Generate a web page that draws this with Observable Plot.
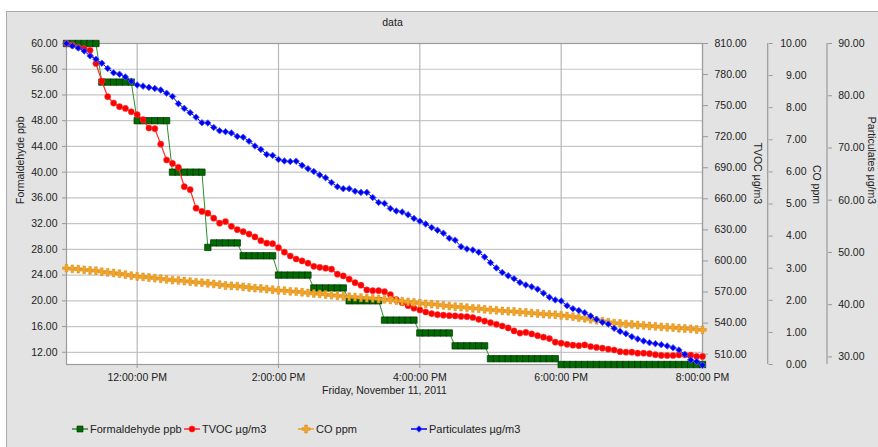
<!DOCTYPE html>
<html><head><meta charset="utf-8">
<script src="https://cdn.jsdelivr.net/npm/d3@7"></script>
<script src="https://cdn.jsdelivr.net/npm/@observablehq/plot@0.6"></script>
<style>
html,body{margin:0;padding:0;background:#fff;}
#wrap{position:relative;width:878px;height:447px;overflow:hidden;font-family:"Liberation Sans",Arial,sans-serif;}
#panel{position:absolute;left:6px;top:11px;width:880px;height:450px;background:#e3e3e3;border:1px solid #a9a9a9;}
#chart{position:absolute;left:0;top:0;}
#legend{position:absolute;left:0;top:421px;height:16px;width:878px;font-size:11px;color:#222;}
.item{position:absolute;top:0;display:flex;align-items:center;height:16px;white-space:nowrap;}
.item svg{display:block;margin-right:1px;}
</style></head>
<body>
<div id="wrap"><div id="panel"></div><div id="chart"></div><div id="legend"></div></div>
<script>
// ---- data (5-minute readings, Friday Nov 11 2011, 11:00 AM to 8:00 PM) ----
const startHourUTC = 11;
const stepMinutes = 5;
const xTickHours = [12, 14, 16, 18, 20];

const formaldehyde = [
  60,60,60,60,60,60, 54,54,54,54,54,54, 48,48,48,48,48,48, 40,40,40,40,40,40,
  28.3,29,29,29,29,29, 27,27,27,27,27,27, 24,24,24,24,24,24, 22,22,22,22,22,22,
  20,20,20,20,20,20, 17,17,17,17,17,17, 15,15,15,15,15,15, 13,13,13,13,13,13,
  11,11,11,11,11,11,11,11,11,11,11,11,
  10.1,10.1,10.1,10.1,10.1,10.1,10.1,10.1,10.1,10.1,10.1,10.1,10.1,10.1,10.1,10.1,10.1,10.1,10.1,10.1,10.1,10.1,10.1,10.1,10.1
];
const tvoc = [
  810.0,808.4,806.4,805.0,803.5,790.7,773.6,758.6,752.5,749.0,
  747.3,744.1,741.4,736.4,728.4,727.7,712.8,697.5,694.2,690.4,
  671.7,668.8,651.0,647.8,646.1,641.3,636.5,638.0,633.4,630.2,
  628.3,626.0,623.2,619.6,617.2,616.7,612.8,608.5,604.8,601.9,
  600.0,597.9,594.8,593.8,593.0,592.1,587.2,585.5,582.4,579.0,
  576.6,572.0,571.3,571.3,570.3,567.4,562.6,559.7,556.8,554.4,
  552.7,550.7,549.1,548.1,547.6,547.2,546.9,546.4,546.2,545.4,
  543.6,541.9,540.4,538.8,537.2,535.3,532.4,530.3,531.0,529.5,
  527.8,526.4,525.0,521.6,520.6,519.5,518.7,518.2,518.9,517.4,
  516.5,515.8,514.8,514.0,512.4,511.9,511.9,510.9,510.9,510.5,
  509.5,508.8,508.7,508.7,509.2,509.3,509.0,507.8,507.8
];
const co = [
  3.00,2.98,2.97,2.95,2.93,2.92,2.89,2.87,2.85,2.83,2.80,2.77,2.74,
  2.73,2.71,2.69,2.67,2.65,2.63,2.62,2.60,2.58,2.56,2.55,2.53,2.51,2.49,2.46,
  2.45,2.44,2.42,2.40,2.38,2.37,2.35,2.33,2.31,
  2.30,2.28,2.27,2.25,2.23,2.21,2.20,2.18,2.16,2.14,2.12,
  2.11,2.10,2.08,2.07,2.06,2.04,2.03,2.01,
  1.99,1.97,1.95,1.93,1.91,
  1.89,1.88,1.86,1.84,1.82,1.80,1.79,1.77,1.75,1.74,1.72,1.70,
  1.69,1.67,1.66,1.65,1.63,1.62,1.60,1.59,1.57,1.56,1.55,1.53,
  1.51,1.49,1.46,1.44,1.41,1.38,1.35,1.32,1.29,
  1.28,1.26,1.25,1.23,1.22,1.20,1.19,1.17,1.16,1.15,1.13,1.12,1.11,1.09,1.08
];
const particulates = [
  90.00,89.54,89.14,88.57,87.63,86.99,86.23,85.23,84.39,84.12,
  83.59,82.78,82.07,81.84,81.60,81.40,81.10,80.49,79.86,78.48,
  77.58,76.76,75.90,74.84,74.79,73.94,73.29,73.12,72.87,72.22,
  72.07,71.30,70.38,69.73,68.77,68.58,67.80,67.51,67.41,67.47,
  66.67,66.04,65.50,64.83,64.29,63.39,62.59,62.21,62.21,61.73,
  61.50,61.50,60.52,59.57,59.39,58.42,57.94,57.75,57.23,56.52,
  55.99,55.45,54.78,54.26,53.69,52.73,52.35,51.11,50.67,50.48,
  50.05,49.14,48.05,47.03,46.17,45.54,44.98,44.26,43.78,43.43,
  42.97,42.21,41.44,40.91,40.71,39.81,39.24,38.89,38.47,37.84,
  37.19,36.65,36.29,35.47,34.89,34.45,33.88,33.44,33.05,32.73,
  32.54,32.35,32.10,31.75,31.33,30.49,29.42,29.13,28.42
];

const leftTicks = [12,16,20,24,28,32,36,40,44,48,52,56,60];
const tvocTicks = [510,540,570,600,630,660,690,720,750,780,810];
const coTicks = [0,1,2,3,4,5,6,7,8,9,10];
const partTicks = [30,40,50,60,70,80,90];

const leftDomain = [10.1, 60];
const tvocDomain = [500, 810];
const coDomain = [0, 10];
const partDomain = [28.55, 90];

const titleText = "data";
const xLabel = "Friday, November 11, 2011";
const names = ["Formaldehyde ppb", "TVOC µg/m3", "CO ppm", "Particulates µg/m3"];
const colors = {f:"#006b00", t:"#ff0000", c:"#f2a52a", p:"#0000ee"};

// ---- build ----
const day = (h, m=0) => new Date(Date.UTC(2011, 10, 11, h, m));
const times = formaldehyde.map((_, i) => day(startHourUTC, i * stepMinutes));
const xDomain = [day(startHourUTC), day(20)];
const xTicks = xTickHours.map(h => day(h));

const sF = d3.scaleLinear(leftDomain, [0,1]);
const sT = d3.scaleLinear(tvocDomain, [0,1]);
const sC = d3.scaleLinear(coDomain, [0,1]);
const sP = d3.scaleLinear(partDomain, [0,1]);
const rows = (vals, s) => vals.map((v, i) => ({t: times[i], y: s(v)}));
const fR = rows(formaldehyde, sF), tR = rows(tvoc, sT), cR = rows(co, sC), pR = rows(particulates, sP);

const fmt2 = v => (Math.round(v*100)/100).toFixed(2);
const FS = 10.5;

const plot = Plot.plot({
  width: 878, height: 447,
  marginLeft: 66, marginTop: 43, marginRight: 176, marginBottom: 83,
  style: {background: "transparent", color: "#222", fontFamily: '"Liberation Sans", Arial, sans-serif', fontSize: FS + "px"},
  x: {type: "utc", domain: xDomain, axis: null},
  y: {domain: [0, 1], axis: null},
  marks: [
    Plot.frame({fill: "white", stroke: null}),
    Plot.gridY(leftTicks.map(sF), {stroke: "#c6c6c6", strokeOpacity: 1, strokeWidth: 1.2}),
    Plot.gridX(xTicks, {stroke: "#b8b8b8", strokeOpacity: 1, strokeWidth: 1.2}),
    Plot.frame({stroke: "#9c9c9c", strokeWidth: 1.2}),
    Plot.axisX(xTicks, {tickSize: 4, tickPadding: 5, tickFormat: d3.utcFormat("%-I:%M:%S %p"), stroke: "#999", fill: "#222", fontSize: FS, label: null}),
    Plot.axisY(leftTicks.map(sF), {anchor: "left", tickSize: 4, tickPadding: 5, tickFormat: d => fmt2(sF.invert(d)), stroke: "#999", fill: "#222", fontSize: FS, label: null}),
    Plot.axisY(tvocTicks.map(sT), {anchor: "right", tickSize: 5, tickPadding: 7, tickFormat: d => fmt2(sT.invert(d)), stroke: "#999", fill: "#222", fontSize: FS, label: null}),
    Plot.axisY(coTicks.map(sC), {anchor: "right", dx: 65.7, tickSize: 4, tickPadding: 34.3, textAnchor: "end", tickFormat: d => fmt2(sC.invert(d)), stroke: "#999", fill: "#222", fontSize: FS, label: null}),
    Plot.axisY(partTicks.map(sP), {anchor: "right", dx: 125, tickSize: 4, tickPadding: 33, textAnchor: "end", tickFormat: d => fmt2(sP.invert(d)), stroke: "#999", fill: "#222", fontSize: FS, label: null}),
    Plot.text([titleText], {frameAnchor: "top", dy: -25, dx: 8, text: d => d, fontSize: FS}),
    Plot.text([xLabel], {frameAnchor: "bottom", dy: 29, text: d => d, fontSize: FS}),
    Plot.text([names[0]], {frameAnchor: "left", dx: -46, rotate: -90, text: d => d, fontSize: FS}),
    Plot.text([names[1]], {frameAnchor: "right", dx: 55, rotate: 90, text: d => d, fontSize: FS}),
    Plot.text([names[2]], {frameAnchor: "right", dx: 114, rotate: 90, text: d => d, fontSize: FS}),
    Plot.text([names[3]], {frameAnchor: "right", dx: 168.5, rotate: 90, text: d => d, fontSize: FS}),
    // series
    Plot.line(fR, {x: "t", y: "y", stroke: "#2a8f2a", strokeWidth: 1}),
    Plot.dot(fR, {x: "t", y: "y", symbol: "square", r: 3.6, fill: colors.f, stroke: "#003000", strokeWidth: 0.7}),
    Plot.line(tR, {x: "t", y: "y", stroke: "#ff2a2a", strokeWidth: 1.2}),
    Plot.dot(tR, {x: "t", y: "y", symbol: "circle", r: 3.1, fill: colors.t, stroke: "#ff4040", strokeWidth: 0.5}),
    Plot.line(cR, {x: "t", y: "y", stroke: "#f0a020", strokeWidth: 1.5}),
    Plot.dot(cR, {x: "t", y: "y", symbol: "cross", r: 3.3, fill: colors.c, stroke: "#d88a10", strokeWidth: 0.5}),
    Plot.line(pR, {x: "t", y: "y", stroke: "#0000ff", strokeWidth: 1}),
    Plot.dot(pR, {x: "t", y: "y", symbol: "square", rotate: 45, r: 2.6, fill: colors.p, stroke: "#4a5cff", strokeWidth: 0.8})
  ]
});
document.getElementById("chart").appendChild(plot);

// axis lines for the two offset right axes
const ys = plot.scale("y").range;
const svg = d3.select(plot);
[65.7, 125].forEach(dx => {
  svg.append("line").attr("x1", 702 + dx).attr("x2", 702 + dx)
    .attr("y1", ys[0]).attr("y2", ys[1]).attr("stroke", "#999").attr("stroke-width", 1.2);
});

// legend
const legendItems = [
  {name: names[0], left: 71, sym: d3.symbolSquare, r: 3.4, fill: colors.f, stroke: "#003000", line: "#2a8f2a", rot: 0},
  {name: names[1], left: 183, sym: d3.symbolCircle, r: 3.1, fill: colors.t, stroke: "#ff4040", line: "#ff2a2a", rot: 0},
  {name: names[2], left: 297, sym: d3.symbolCross, r: 3.3, fill: colors.c, stroke: "#d88a10", line: "#f0a020", rot: 0},
  {name: names[3], left: 410, sym: d3.symbolSquare, r: 2.6, fill: colors.p, stroke: "#4a5cff", line: "#0000ff", rot: 45}
];
const leg = d3.select("#legend");
legendItems.forEach(it => {
  const div = leg.append("div").attr("class", "item").style("left", it.left + "px");
  const s = div.append("svg").attr("width", 18).attr("height", 12);
  s.append("line").attr("x1", 1).attr("x2", 17).attr("y1", 6).attr("y2", 6).attr("stroke", it.line).attr("stroke-width", 1.5);
  s.append("path").attr("d", d3.symbol(it.sym, Math.PI * it.r * it.r)())
    .attr("transform", `translate(9,6) rotate(${it.rot})`)
    .attr("fill", it.fill).attr("stroke", it.stroke).attr("stroke-width", 0.6);
  div.append("span").text(it.name);
});
</script>
</body></html>
